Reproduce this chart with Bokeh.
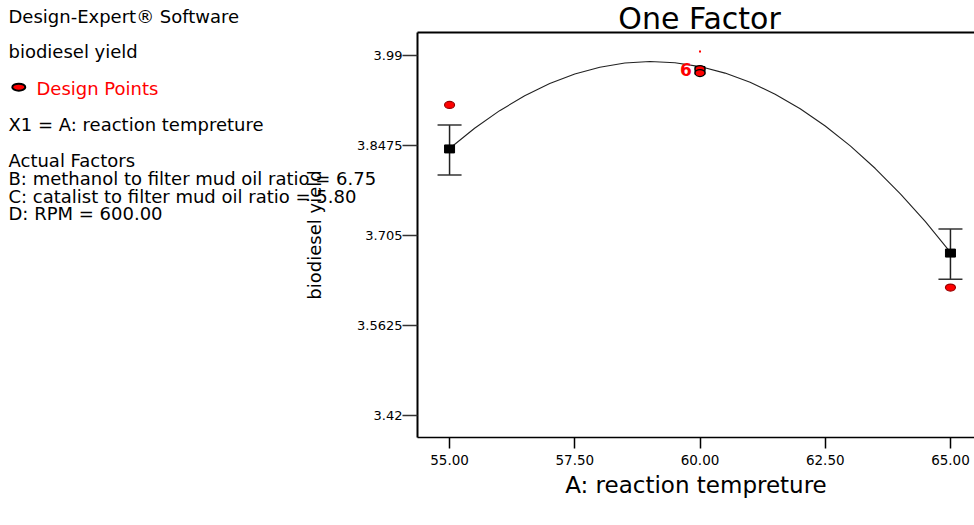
from bokeh.plotting import figure
from bokeh.models import (FixedTicker, LinearAxis, Range1d,
                          ColumnDataSource, Whisker, TeeHead)
from bokeh.core.properties import value
from bokeh.embed import file_html
from bokeh.resources import INLINE

# ---------------- data ----------------
curve_x = [55.0, 55.5, 56.0, 56.5, 57.0, 57.5, 58.0, 58.5, 59.0, 59.5, 60.0,
           60.5, 61.0, 61.5, 62.0, 62.5, 63.0, 63.5, 64.0, 64.5, 65.0]
curve_y = [3.8430, 3.8750, 3.9028, 3.9263, 3.9456, 3.9607, 3.9715, 3.9781, 3.9805, 3.9786, 3.9725,
           3.9622, 3.9476, 3.9289, 3.9058, 3.8786, 3.8471, 3.8113, 3.7714, 3.7272, 3.6788]

levels = [55.0, 60.0, 65.0]
predicted = [3.8423, 3.9663, 3.6776]

bar_x = [55.0, 65.0]
bar_upper = [3.8803, 3.7156]
bar_lower = [3.8011, 3.6364]

design_x = [55.0, 60.0, 60.0, 65.0]
design_y = [3.9119, 3.9686, 3.9623, 3.6231]
design_edge = ["#990000", "black", "black", "#990000"]

extra_x = [60.0]
extra_y = [3.9963]

count_x = [59.72]
count_y = [3.9678]
count_text = ["6"]

x_ticks = [55.0, 57.5, 60.0, 62.5, 65.0]
x_tick_labels = ["55.00", "57.50", "60.00", "62.50", "65.00"]
y_ticks = [3.42, 3.5625, 3.705, 3.8475, 3.99]
y_tick_labels = ["3.42", "3.5625", "3.705", "3.8475", "3.99"]

title_text = "One Factor"
x_title = "A: reaction tempreture"
y_title = "biodiesel yield"
info_lines = ["Design-Expert\u00ae Software", "biodiesel yield", "Design Points",
              "X1 = A: reaction tempreture", "Actual Factors",
              "B: methanol to filter mud oil ratio = 6.75",
              "C: catalist to filter mud oil ratio = 5.80",
              "D: RPM = 600.00"]
info_colors = ["black", "black", "red", "black", "black", "black", "black", "black"]

FONT = "DejaVu Sans"

# ---------------- main plot ----------------
p = figure(width=974, height=525,
           x_range=Range1d(54.36, 65.48), y_range=Range1d(3.386, 4.0264),
           output_backend="svg", toolbar_location=None,
           min_border_left=417, min_border_right=0,
           min_border_top=32, min_border_bottom=88)
p.outline_line_color = None
p.grid.visible = False
p.background_fill_color = "white"

p.xaxis.ticker = FixedTicker(ticks=x_ticks)
p.xaxis.major_label_overrides = dict(zip(x_ticks, x_tick_labels))
p.xaxis.major_tick_out = 11
p.xaxis.major_tick_in = 0
p.xaxis.minor_tick_line_color = None
p.xaxis.major_tick_line_width = 1.5
p.xaxis.major_tick_line_color = "black"
p.xaxis.axis_line_width = 1.5
p.xaxis.axis_line_color = "black"
p.xaxis.major_label_text_font = FONT
p.xaxis.major_label_text_font_size = "13.5px"
p.xaxis.major_label_text_color = "black"
p.xaxis.major_label_standoff = 6
p.xaxis.axis_label = x_title
p.xaxis.axis_label_text_font = FONT
p.xaxis.axis_label_text_font_size = "23px"
p.xaxis.axis_label_text_font_style = "normal"
p.xaxis.axis_label_text_color = "black"
p.xaxis.axis_label_standoff = 4

p.yaxis.ticker = FixedTicker(ticks=y_ticks)
p.yaxis.major_label_overrides = dict(zip(y_ticks, y_tick_labels))
p.yaxis.major_tick_out = 15
p.yaxis.major_tick_in = 0
p.yaxis.minor_tick_line_color = None
p.yaxis.major_tick_line_width = 1.5
p.yaxis.major_tick_line_color = "#333333"
p.yaxis.axis_line_width = 2
p.yaxis.axis_line_color = "black"
p.yaxis.major_label_text_font = FONT
p.yaxis.major_label_text_font_size = "13px"
p.yaxis.major_label_text_color = "black"
p.yaxis.major_label_standoff = 0
p.yaxis.axis_label = y_title
p.yaxis.axis_label_text_font = FONT
p.yaxis.axis_label_text_font_size = "18px"
p.yaxis.axis_label_text_font_style = "normal"
p.yaxis.axis_label_text_color = "black"
p.yaxis.axis_label_standoff = 29

top_axis = LinearAxis(ticker=FixedTicker(ticks=[]), axis_line_width=2,
                      axis_line_color="black",
                      major_tick_out=0, major_tick_in=0, minor_tick_out=0,
                      minor_tick_in=0, major_label_text_font_size="0px")
p.add_layout(top_axis, "above")

p.line(curve_x, curve_y, line_color="#222222", line_width=1.1)

bars = ColumnDataSource(dict(x=bar_x, upper=bar_upper, lower=bar_lower))
p.add_layout(Whisker(source=bars, base="x", upper="upper", lower="lower",
                     line_color="#222222", line_width=1.5,
                     upper_head=TeeHead(size=24, line_color="#333333", line_width=1.5),
                     lower_head=TeeHead(size=24, line_color="#333333", line_width=1.5)))

p.rect(levels, predicted, width=10, height=8, width_units="screen",
       height_units="screen", fill_color="black", line_color="black")

p.ellipse(design_x, design_y, width=10, height=7, width_units="screen",
          height_units="screen", fill_color="red", line_color=design_edge,
          line_width=1.2)
p.rect(extra_x, extra_y, width=2, height=2, width_units="screen",
       height_units="screen", fill_color="red", line_color=None)
p.text(count_x, count_y, text=count_text, text_color="red",
       text_font=value(FONT), text_font_size="17px", text_font_style="bold",
       text_align="center", text_baseline="middle")

# ---------------- transparent overlay for the texts outside the frame ----------------
info = figure(width=974, height=240, x_range=Range1d(0, 974), y_range=Range1d(240, 0),
              x_axis_type=None, y_axis_type=None, title=None,
              output_backend="svg", toolbar_location=None, min_border=0,
              styles={"position": "absolute", "left": "0px", "top": "0px",
                      "pointer-events": "none", "z-index": "5"})
info.grid.visible = False
info.outline_line_color = None
info.background_fill_color = None
info.border_fill_color = None

# title, centred over x = 60 of the main plot (page x 699)
info.text([699], [17.5], text=[title_text], text_font=value(FONT),
          text_font_size="30px", text_color="black",
          text_align="center", text_baseline="middle")

info.text([8, 8, 36, 8, 8, 8, 8, 8],
          [16.0, 50.7, 87.5, 123.8, 159.8, 177.8, 195.5, 213.3],
          text=info_lines, text_color=info_colors, text_font=value(FONT),
          text_font_size="18px", text_align="left", text_baseline="middle")

# legend icon of the design points
info.ellipse([18.3], [86.7], width=13, height=7, fill_color="red",
             line_color="black", line_width=2)

open("out.html", "w").write(file_html([p, info], INLINE))
